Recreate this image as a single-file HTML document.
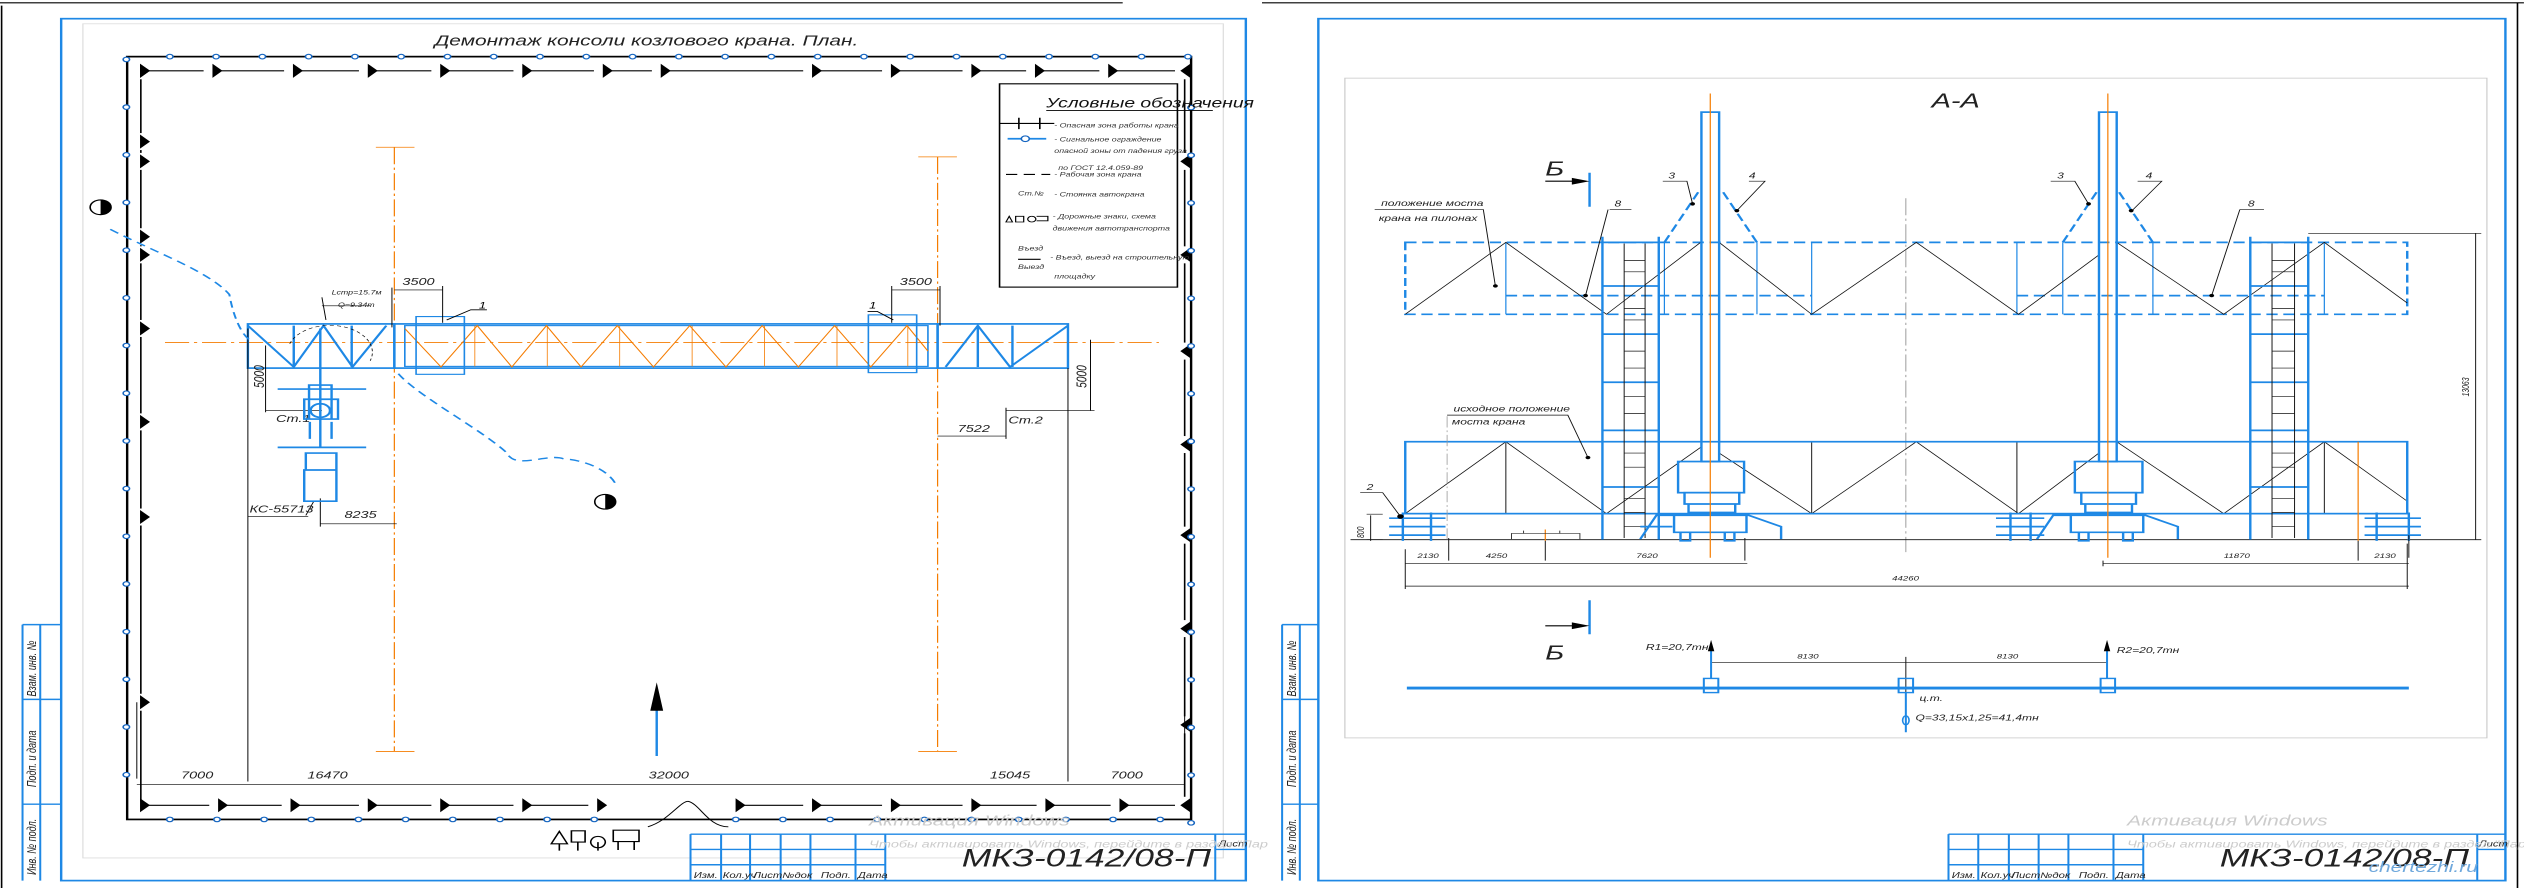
<!DOCTYPE html>
<html><head><meta charset="utf-8"><style>
html,body{margin:0;padding:0;background:#fff;width:2524px;height:888px;overflow:hidden}
svg{display:block}
text{font-family:"Liberation Sans","DejaVu Sans",sans-serif;font-style:italic}
</style></head><body>
<svg id="s" width="2524" height="888" viewBox="0 0 2524 888" xmlns="http://www.w3.org/2000/svg">
<g id="L" transform="scale(0.8048,0.5663)" fill="none" stroke-linecap="butt">
 <line x1="0" y1="5" x2="1395" y2="5" stroke="#000" stroke-width="2"/>
 <line x1="2" y1="10" x2="2" y2="1568" stroke="#000" stroke-width="2"/>
 <rect x="76" y="33" width="1472" height="1522" stroke="#1e88e5" stroke-width="3"/>
 <rect x="103" y="42" width="1417" height="1473" stroke="#ddd" stroke-width="1.5"/>
 <text x="540" y="80" font-size="26" fill="#222" stroke="none" transform="translate(540 80) scale(1,1) translate(-540 -80)">Демонтаж консоли козлового крана. План.</text>
 <rect x="158" y="100" width="1322" height="1347" stroke="#000" stroke-width="3"/>
 <g id="fence" stroke="#000" stroke-width="2"></g>
 <g id="circs" stroke="#1565c0" stroke-width="2" fill="#fff"></g>
 <!-- legend -->
 <rect x="1242" y="148" width="221" height="359" stroke="#000" stroke-width="2"/>
 <text x="1300" y="190" font-size="24" fill="#111" stroke="none">Условные обозначения</text>
 <line x1="1300" y1="195" x2="1507" y2="195" stroke="#000" stroke-width="1.5"/>
 <g fill="#333" stroke="none" font-size="11">
  <text x="1310" y="225">- Опасная зона работы крана</text>
  <text x="1310" y="250">- Сигнальное ограждение</text>
  <text x="1310" y="270">опасной зоны от падения груза</text>
  <text x="1315" y="300">по ГОСТ 12.4.059-89</text>
  <text x="1310" y="312">- Рабочая зона крана</text>
  <text x="1265" y="345">Ст.№</text>
  <text x="1310" y="347">- Стоянка автокрана</text>
  <text x="1308" y="386">- Дорожные знаки, схема</text>
  <text x="1308" y="407">движения автотранспорта</text>
  <text x="1265" y="442">Въезд</text><text x="1265" y="475">Выезд</text>
  <text x="1305" y="458">- Въезд, выезд на строительную</text>
  <text x="1310" y="492">площадку</text>
 </g>
 <path d="M1242 218H1310M1266 208v20M1292 208v20" stroke="#000" stroke-width="2"/>
 <path d="M1252 245H1300" stroke="#1e88e5" stroke-width="3"/><circle cx="1274" cy="245" r="5" stroke="#1565c0" stroke-width="2" fill="#fff"/>
 <path d="M1250 308H1305" stroke="#000" stroke-width="2" stroke-dasharray="14 8"/>
 <path d="M1258 392l-8 0 4-10zM1262 382h10v10h-10zM1282 382a5 5 0 1 0 .1 0M1288 382h14v8h-14" stroke="#000" stroke-width="1.5"/>
 <path d="M1265 458h28" stroke="#000" stroke-width="2"/>
 <!-- orange axes -->
 <g stroke="#f57c00" stroke-width="1.5" stroke-dasharray="30 6 4 6">
  <line x1="205" y1="605" x2="1440" y2="605"/>
  <line x1="490" y1="260" x2="490" y2="1327"/>
  <line x1="1165" y1="277" x2="1165" y2="1327"/>
 </g>
 <g stroke="#f57c00" stroke-width="1.5"><path d="M467 260h48M467 1327h48M1141 277h48M1141 1327h48"/></g>
 <!-- crane bridge -->
 <rect x="490" y="572" width="675" height="78" stroke="#1e88e5" stroke-width="3"/>
 <rect x="503" y="575" width="650" height="72" stroke="#1e88e5" stroke-width="2"/>
 <path d="M503 580L548 648 593 575 636 648 679 575 722 648 767 575 812 648 857 575 902 648 947 575 992 648 1037 575 1082 648 1127 575 1153 620" stroke="#f57c00" stroke-width="1.5"/>
 <path d="M590 575v72M680 575v72M770 575v72M860 575v72M950 575v72M1040 575v72M1128 575v72" stroke="#f57c00" stroke-width="1"/>
 <rect x="308" y="572" width="182" height="78" stroke="#1e88e5" stroke-width="3"/>
 <path d="M308 575L365 648 402 575 438 648 480 575M365 575v73M437 575v73" stroke="#1e88e5" stroke-width="3"/>
 <rect x="1165" y="572" width="162" height="78" stroke="#1e88e5" stroke-width="3"/>
 <path d="M1175 648L1215 575 1255 648 1327 575M1215 575v73M1258 575v73" stroke="#1e88e5" stroke-width="3"/>
 <rect x="517" y="559" width="60" height="102" stroke="#1e88e5" stroke-width="2"/>
 <rect x="1079" y="556" width="60" height="102" stroke="#1e88e5" stroke-width="2"/>
 <path d="M555 565l30-18h20M1110 565l-20-15h-12" stroke="#000" stroke-width="1.5"/>
 <text x="595" y="545" font-size="16" fill="#000" stroke="none">1</text><text x="1080" y="545" font-size="16" fill="#000" stroke="none">1</text>
 <!-- dims -->
 <g stroke="#000" stroke-width="1.2">
  <path d="M490 512h60M487 508v70M550 505v65M1108 512h60M1108 505v65M1168 505v70"/>
  <path d="M330 610v118M330 725h70M1355 600v125M1250 725h110M1165 770h85M1250 720v55"/>
  <path d="M170 1385H1472M308 1380v-800M170 1375v-135M1327 1380v-730M1472 1375v-135"/>
  <path d="M398 925h95M398 880v50M308 912h75M390 885l-10 25"/>
  <path d="M400 525l5 40M400 540h60"/>
 </g>
 <g fill="#222" stroke="none" font-size="18">
  <text x="500" y="503">3500</text><text x="1118" y="503">3500</text>
  <text x="225" y="1375">7000</text><text x="382" y="1375">16470</text><text x="806" y="1375">32000</text><text x="1230" y="1375">15045</text><text x="1380" y="1375">7000</text>
  <text x="428" y="915">8235</text><text x="1190" y="763">7522</text>
  <text x="310" y="905">КС-55713</text><text x="343" y="745">Ст.1</text><text x="1253" y="748">Ст.2</text>
  <text x="412" y="520" font-size="11">Lстр=15.7м</text><text x="420" y="542" font-size="11">Q=9.34т</text>
  <text transform="translate(328 685) rotate(-90)">5000</text><text transform="translate(1350 685) rotate(-90)">5000</text>
 </g>
 <!-- autocrane -->
 <g stroke="#1e88e5" stroke-width="3">
  <path d="M345 687h110M345 790h110M384 680h28v60h-28zM378 705h42v35h-42zM385 745v30M412 745v30M380 800h38v30h-38zM378 830h40v55h-40zM398 580v210"/>
  <circle cx="398" cy="725" r="12"/>
 </g>
 <path d="M360 607a50 45 0 0 1 100 30" stroke="#000" stroke-width="1" stroke-dasharray="5 4"/>
 <!-- path dashed blue -->
 <path d="M137 405C200 450 260 480 285 520 290 560 300 590 310 600M495 660C520 700 600 760 630 800 640 830 680 800 700 810 740 815 760 840 765 855" stroke="#1e88e5" stroke-width="2.5" stroke-dasharray="12 8"/>
 <circle cx="125" cy="366" r="13" stroke="#000" stroke-width="2"/><path d="M125 353a13 13 0 0 1 0 26z" fill="#000"/>
 <circle cx="752" cy="886" r="13" stroke="#000" stroke-width="2"/><path d="M752 873a13 13 0 0 1 0 26z" fill="#000"/>
 <!-- arrow -->
 <path d="M816 1335V1250" stroke="#1e88e5" stroke-width="3"/><path d="M808 1255l8-50 8 50z" fill="#000"/>
 <!-- gate -->
 <path d="M805 1460C830 1450 845 1415 855 1415 870 1420 880 1460 905 1460" stroke="#000" stroke-width="1.5"/>
 <path d="M685 1490l10-22 10 22zM695 1490v12M710 1467h17v20h-17zM718 1487v15M743 1477a9 10 0 1 0 .1 0M743 1487v15M762 1466h32v20h-32zM768 1486v15M788 1486v15" stroke="#000" stroke-width="2"/>
 <!-- title block -->
 <g stroke="#1e88e5" stroke-width="2.5">
  <path d="M858 1473H1548M858 1473V1555M858 1500H1100M858 1527H1100M896 1473v82M932 1473v82M970 1473v82M1007 1473v82M1063 1473v82M1100 1473v82M1510 1473v82M1510 1500h38"/>
 </g>
 <g fill="#222" stroke="none" font-size="14"><text x="862" y="1550">Изм.</text><text x="898" y="1550">Кол.уч</text><text x="936" y="1550">Лист</text><text x="972" y="1550">№док</text><text x="1020" y="1550">Подп.</text><text x="1066" y="1550">Дата</text><text x="1514" y="1495">Лист</text></g>
 <text x="1195" y="1530" font-size="44" fill="#222" stroke="none">МКЗ-0142/08-П</text>
 <text x="1080" y="1458" font-size="26" fill="#ccc" stroke="none" font-style="normal">Активация Windows</text>
 <text x="1080" y="1497" font-size="18" fill="#ccc" stroke="none" font-style="normal">Чтобы активировать Windows, перейдите в раздел "Пар</text>
 <!-- side stamp -->
 <g stroke="#1e88e5" stroke-width="2.5"><path d="M28 1103H76M28 1103V1555M50 1103V1555M28 1235H76M28 1420H76"/></g>
 <g fill="#222" stroke="none" font-size="16">
  <text transform="translate(45 1230) rotate(-90)">Взам. инв. №</text>
  <text transform="translate(45 1390) rotate(-90)">Подп. и дата</text>
  <text transform="translate(45 1545) rotate(-90)">Инв. № подл.</text>
 </g>
</g>

<g id="R" transform="translate(1262,0) scale(0.8048,0.5663)" fill="none">
 <line x1="0" y1="5" x2="1568" y2="5" stroke="#000" stroke-width="2"/>
 <line x1="1560" y1="5" x2="1560" y2="1568" stroke="#000" stroke-width="2"/>
 <rect x="70" y="33" width="1475" height="1522" stroke="#1e88e5" stroke-width="3"/>
 <rect x="103" y="138" width="1419" height="1165" stroke="#ccc" stroke-width="1.5"/>
 <text x="832" y="190" font-size="36" fill="#222" stroke="none">А-А</text>
 <!-- center axis -->
 <line x1="800" y1="350" x2="800" y2="975" stroke="#999" stroke-width="1.2" stroke-dasharray="30 6 4 6"/>
 <!-- dashed upper bridge -->
 <g stroke="#1e88e5" stroke-width="3" stroke-dasharray="14 7">
  <rect x="178" y="428" width="1245" height="127"/>
  <path d="M303 522H683M938 522H1320"/>
  <path d="M500 428l45-95M615 428l-45-95M995 428l45-95M1107 428l-45-95"/>
 </g>
 <g stroke="#1e88e5" stroke-width="1.5"><path d="M303 428v127M683 428v127M938 428v127M1320 428v127M500 428v127M615 428v127M995 428v127M1107 428v127"/></g>
 <g stroke="#111" stroke-width="1.2">
  <path d="M178 555L303 428 428 555 545 428M568 428L683 555 813 428 940 555 1040 450M1062 428L1195 555 1320 428 1423 535"/>
  <path d="M178 907L303 780 428 907 545 790M568 800L683 907 813 780 940 907 1040 800M1062 780L1195 907 1320 780 1423 885"/>
  <path d="M303 780v127M683 780v127M938 780v127M1320 780v127"/>
 </g>
 <!-- solid lower bridge -->
 <rect x="178" y="780" width="1245" height="127" stroke="#1e88e5" stroke-width="3"/>
 <path d="M110 953H1515" stroke="#111" stroke-width="1.5"/>
 <!-- ladders -->
 <g stroke="#1e88e5" stroke-width="3">
  <path d="M423 418V953M493 418V953M1228 418V953M1300 418V953"/>
  <path d="M423 428h70M423 505h70M423 590h70M423 675h70M423 760h70M423 860h70M1228 428h72M1228 505h72M1228 590h72M1228 675h72M1228 760h72M1228 860h72"/>
 </g>
 <g stroke="#111" stroke-width="1.2"><path d="M450 430V950M476 430V950M1255 430V950M1283 430V950"/>
  <path d="M450 460h26M450 480h26M450 545h26M450 565h26M450 620h26M450 650h26M450 700h26M450 730h26M450 800h26M450 825h26M450 880h26M450 905h26M450 930h26M1255 460h28M1255 480h28M1255 545h28M1255 565h28M1255 620h28M1255 650h28M1255 700h28M1255 730h28M1255 800h28M1255 825h28M1255 880h28M1255 905h28M1255 930h28"/>
 </g>
 <!-- columns -->
 <g stroke="#1e88e5" stroke-width="3">
  <rect x="546" y="198" width="22" height="617"/><rect x="1040" y="198" width="22" height="617"/>
  <rect x="517" y="815" width="82" height="55"/><rect x="1010" y="815" width="84" height="55"/>
  <path d="M525 870h68v20h-68zM530 890h58v15h-58zM1018 870h68v20h-68zM1023 890h58v15h-58z"/>
  <path d="M470 952l20-42h115l40 20v22M963 952l20-42h115l40 20v22M470 930h40M512 910v30h90v-30M1005 910v30h90v-30"/>
  <path d="M520 940v15h12v-15M575 940v15h12v-15M1015 940v15h12v-15M1070 940v15h12v-15"/>
  <path d="M158 915h70M158 930h70M158 945h70M175 905v50M210 905v50M912 915h60M912 930h60M912 945h60M930 905v50M955 905v50M1370 915h70M1370 930h70M1370 945h70M1385 905v50M1425 905v50"/>
 </g>
 <g stroke="#f57c00" stroke-width="1.5"><path d="M557 165V985M1051 165V985M1362 780v175M352 935v20"/></g>
 <path d="M230 735v220" stroke="#999" stroke-width="1" stroke-dasharray="20 5 3 5"/>
 <path d="M310 952v-10h85v10M325 942v-5M370 942v-5" stroke="#333" stroke-width="1.2"/>
 <!-- section marks -->
 <g stroke="#1e88e5" stroke-width="3"><path d="M407 305v60M407 1060v60"/></g>
 <g stroke="#000" stroke-width="2"><path d="M352 320h50M352 1105h50"/></g>
 <path d="M385 314l22 6-22 6zM385 1099l22 6-22 6z" fill="#000"/>
 <text x="352" y="310" font-size="36" fill="#222" stroke="none">Б</text>
 <text x="352" y="1165" font-size="36" fill="#222" stroke="none">Б</text>
 <!-- leaders -->
 <g stroke="#111" stroke-width="1.2">
  <path d="M140 370h135l15 135M230 733h150l25 75M122 870h28l22 42M498 320h30l7 40M605 320h20l-35 52M432 370h27M430 370l-28 152M980 320h30l17 40M1088 320h30l-37 52M1215 370h30M1215 370l-35 152"/>
  <path d="M1300 412h215M1508 412V953M1045 995h380M1045 990v10M1362 990v-35M1425 985v-40M178 995h425M178 990v10M232 990v-40M352 990v-35M600 990v-40M178 1035h1247M178 1040v-70M1423 1040v-80M135 910v45M130 908h20M130 953h20"/>
  <path d="M558 1170h492M800 1160v95"/>
 </g>
 <g fill="#000" stroke="none"><circle cx="290" cy="505" r="3"/><circle cx="402" cy="522" r="3"/><circle cx="405" cy="808" r="3"/><circle cx="535" cy="360" r="3"/><circle cx="590" cy="372" r="3"/><circle cx="1027" cy="360" r="3"/><circle cx="1080" cy="372" r="3"/><circle cx="1180" cy="522" r="3"/><circle cx="172" cy="912" r="4"/></g>
 <g fill="#222" stroke="none" font-size="15">
  <text x="148" y="364">положение моста</text><text x="145" y="390">крана на пилонах</text>
  <text x="238" y="727">исходное положение</text><text x="236" y="750">моста крана</text>
  <text x="505" y="315">3</text><text x="605" y="315">4</text><text x="988" y="315">3</text><text x="1098" y="315">4</text>
  <text x="438" y="365">8</text><text x="1225" y="365">8</text><text x="130" y="865">2</text>
  <g font-size="12"><text x="193" y="985">2130</text><text x="278" y="985">4250</text><text x="465" y="985">7620</text><text x="1195" y="985">11870</text><text x="1382" y="985">2130</text><text x="783" y="1025">44260</text>
  <text transform="translate(127 950) rotate(-90)">800</text><text transform="translate(1500 700) rotate(-90)">13063</text>
  <text x="665" y="1163">8130</text><text x="913" y="1163">8130</text></g>
  <text x="477" y="1148">R1=20,7тн</text><text x="1062" y="1153">R2=20,7тн</text>
  <text x="817" y="1238">ц.т.</text><text x="812" y="1272">Q=33,15х1,25=41,4тн</text>
 </g>
 <path d="M180 1215H1425" stroke="#1e88e5" stroke-width="5"/>
 <g stroke="#1e88e5" stroke-width="2.5"><rect x="549" y="1198" width="18" height="25"/><rect x="791" y="1198" width="18" height="25"/><rect x="1042" y="1198" width="18" height="25"/>
  <path d="M558 1198v-60M1050 1198v-60M800 1223v70"/></g>
 <path d="M554 1150l4-20 4 20zM1046 1150l4-20 4 20z" fill="#000"/>
 <ellipse cx="800" cy="1272" rx="4" ry="8" stroke="#1e88e5" stroke-width="2"/>
 <!-- title block -->
 <g stroke="#1e88e5" stroke-width="2.5">
  <path d="M853 1473H1545M853 1473V1555M853 1500H1095M853 1527H1095M890 1473v82M928 1473v82M965 1473v82M1002 1473v82M1058 1473v82M1095 1473v82M1510 1473v82M1510 1500h35"/>
 </g>
 <g fill="#222" stroke="none" font-size="14"><text x="857" y="1550">Изм.</text><text x="893" y="1550">Кол.уч</text><text x="931" y="1550">Лист</text><text x="967" y="1550">№док</text><text x="1015" y="1550">Подп.</text><text x="1061" y="1550">Дата</text><text x="1512" y="1495">Лист</text></g>
 <text x="1190" y="1530" font-size="44" fill="#222" stroke="none">МКЗ-0142/08-П</text>
 <text x="1375" y="1540" font-size="26" fill="#6fa8dc" stroke="none" font-style="normal">chertezhi.ru</text>
 <text x="1075" y="1458" font-size="26" fill="#ccc" stroke="none" font-style="normal">Активация Windows</text>
 <text x="1075" y="1497" font-size="18" fill="#ccc" stroke="none" font-style="normal">Чтобы активировать Windows, перейдите в раздел "Пар</text>
 <g stroke="#1e88e5" stroke-width="2.5"><path d="M25 1103H70M25 1103V1555M47 1103V1555M25 1235H70M25 1420H70"/></g>
 <g fill="#222" stroke="none" font-size="16">
  <text transform="translate(42 1230) rotate(-90)">Взам. инв. №</text>
  <text transform="translate(42 1390) rotate(-90)">Подп. и дата</text>
  <text transform="translate(42 1545) rotate(-90)">Инв. № подл.</text>
 </g>
</g>
</svg>
<script>
(function(){
var NS="http://www.w3.org/2000/svg";
var c=document.getElementById("circs"),f=document.getElementById("fence");
function el(p,t,a){var e=document.createElementNS(NS,t);for(var k in a)e.setAttribute(k,a[k]);p.appendChild(e);return e;}
var x,y;
for(x=211;x<=1480;x+=57.5){el(c,"circle",{cx:x,cy:100,r:4});}
for(x=211;x<=1480;x+=58.6){if(x>780&&x<900)continue;el(c,"circle",{cx:x,cy:1447,r:4});}
for(y=105;y<=1440;y+=84.2){el(c,"circle",{cx:157,cy:y,r:4});el(c,"circle",{cx:1480,cy:y+85,r:4});}
// inner dashed flag lines
var tops=[175,265,365,458,548,650,750,822,1010,1108,1208,1287,1378,1472];
for(var i=0;i<tops.length-1;i++){el(f,"line",{x1:tops[i]+8,y1:125,x2:tops[i+1]-12,y2:125});el(f,"path",{d:"M"+tops[i]+" 115v20l10-10z",fill:"#000"});}
var bots=[175,272,362,458,548,650,743,915,1010,1108,1208,1300,1392,1472];
for(i=0;i<bots.length-1;i++){if(bots[i]==743){el(f,"path",{d:"M743 1412v20l10-10z",fill:"#000"});continue;}el(f,"line",{x1:bots[i]+8,y1:1422,x2:bots[i+1]-12,y2:1422});el(f,"path",{d:"M"+bots[i]+" 1412v20l10-10z",fill:"#000"});}
var ls=[125,250,285,418,450,580,745,913,1240];
for(i=0;i<ls.length;i++){el(f,"path",{d:"M175 "+(ls[i]-10)+"v20l10-10z",fill:"#000"});if(i<ls.length-1)el(f,"line",{x1:175,y1:ls[i]+15,x2:175,y2:ls[i+1]-15});}
el(f,"line",{x1:175,y1:1255,x2:175,y2:1415});
var rs=[125,285,450,620,785,945,1110,1280,1422];
for(i=0;i<rs.length;i++){el(f,"path",{d:"M1478 "+(rs[i]-10)+"v20l-10-10z",fill:"#000"});if(i<rs.length-1)el(f,"line",{x1:1472,y1:rs[i]+15,x2:1472,y2:rs[i+1]-15});}
})();
</script>
</body></html>
